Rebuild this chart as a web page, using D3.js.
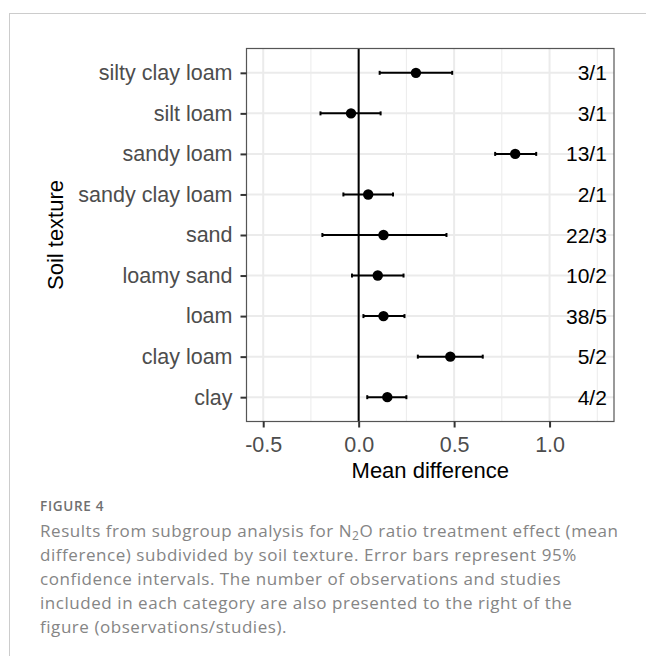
<!DOCTYPE html>
<html>
<head>
<meta charset="utf-8">
<script src="https://cdn.jsdelivr.net/npm/d3@7"></script>
<style>
  body { margin: 0; background: #fff; }
  svg { display: block; }
</style>
</head>
<body>
<svg id="chart" width="646" height="656"></svg>
<script>
// soil texture categories, bottom to top as in the figure
var categories = ["clay", "clay loam", "loam", "loamy sand", "sand",
                  "sandy clay loam", "sandy loam", "silt loam", "silty clay loam"];
var meanDiff = [0.15, 0.48, 0.13, 0.10, 0.13, 0.05, 0.82, -0.04, 0.30];
var ciLow    = [0.045, 0.31, 0.025, -0.035, -0.19, -0.08, 0.715, -0.20, 0.11];
var ciHigh   = [0.25, 0.65, 0.24, 0.235, 0.46, 0.18, 0.93, 0.115, 0.49];
var counts   = ["4/2", "5/2", "38/5", "10/2", "22/3", "2/1", "13/1", "3/1", "3/1"];

var xTicks = [-0.5, 0, 0.5, 1.0];
var xMinor = [-0.25, 0.25, 0.75, 1.25];
var xLimits = [-0.5, 1.25];
var countPos = 1.3;

var panel = {left: 246.5, top: 48.5, right: 614, bottom: 421.5};
var axisFont = "'Liberation Sans', Arial, sans-serif";

var svg = d3.select("#chart");

// outer figure frame
svg.append("rect")
    .attr("x", 9.5).attr("y", 13.5)
    .attr("width", 700).attr("height", 700)
    .attr("fill", "none")
    .attr("stroke", "#cccccc")
    .attr("stroke-width", 1);

// ggplot-like 5% expansion of the limits
var pad = (xLimits[1] - xLimits[0]) * 0.05;
var x = d3.scaleLinear()
    .domain([xLimits[0] - pad, xLimits[1] + pad])
    .range([panel.left, panel.right]);

var y = d3.scalePoint()
    .domain(categories.slice().reverse())
    .range([panel.top, panel.bottom])
    .padding(0.6);

var rows = categories.map(function(c, i) {
    return {cat: c, mean: meanDiff[i], lo: ciLow[i], hi: ciHigh[i], n: counts[i]};
});

var g = svg.append("g");

// grid
g.selectAll(".minor").data(xMinor).enter().append("line")
    .attr("x1", d => x(d)).attr("x2", d => x(d))
    .attr("y1", panel.top).attr("y2", panel.bottom)
    .attr("stroke", "#ebebeb").attr("stroke-width", 1);
g.selectAll(".major").data(xTicks).enter().append("line")
    .attr("x1", d => x(d)).attr("x2", d => x(d))
    .attr("y1", panel.top).attr("y2", panel.bottom)
    .attr("stroke", "#ebebeb").attr("stroke-width", 2);
g.selectAll(".hgrid").data(categories).enter().append("line")
    .attr("x1", panel.left).attr("x2", panel.right)
    .attr("y1", d => y(d)).attr("y2", d => y(d))
    .attr("stroke", "#ebebeb").attr("stroke-width", 2);

// zero line
g.append("line")
    .attr("x1", x(0)).attr("x2", x(0))
    .attr("y1", panel.top).attr("y2", panel.bottom)
    .attr("stroke", "#000").attr("stroke-width", 2);

// error bars
var bars = g.selectAll(".bar").data(rows).enter().append("g");
bars.append("line")
    .attr("x1", d => x(d.lo)).attr("x2", d => x(d.hi))
    .attr("y1", d => y(d.cat)).attr("y2", d => y(d.cat))
    .attr("stroke", "#000").attr("stroke-width", 2);
bars.append("line")
    .attr("x1", d => x(d.lo)).attr("x2", d => x(d.lo))
    .attr("y1", d => y(d.cat) - 2).attr("y2", d => y(d.cat) + 2)
    .attr("stroke", "#000").attr("stroke-width", 2);
bars.append("line")
    .attr("x1", d => x(d.hi)).attr("x2", d => x(d.hi))
    .attr("y1", d => y(d.cat) - 2).attr("y2", d => y(d.cat) + 2)
    .attr("stroke", "#000").attr("stroke-width", 2);
bars.append("circle")
    .attr("cx", d => x(d.mean)).attr("cy", d => y(d.cat))
    .attr("r", 5.2).attr("fill", "#000");

// observations/studies labels
g.selectAll(".count").data(rows).enter().append("text")
    .attr("x", x(countPos)).attr("y", d => y(d.cat))
    .attr("dy", "0.36em")
    .attr("text-anchor", "end")
    .style("font-family", axisFont)
    .style("font-size", "21px")
    .attr("fill", "#000")
    .text(d => d.n);

// panel border
g.append("rect")
    .attr("x", panel.left).attr("y", panel.top)
    .attr("width", panel.right - panel.left)
    .attr("height", panel.bottom - panel.top)
    .attr("fill", "none").attr("stroke", "#555").attr("stroke-width", 1.2);

// axes
var xAxis = g.append("g")
    .attr("transform", "translate(0," + panel.bottom + ")")
    .call(d3.axisBottom(x).tickValues(xTicks).tickSize(6).tickPadding(6)
        .tickFormat(d => d.toFixed(1)));
var yAxis = g.append("g")
    .attr("transform", "translate(" + panel.left + ",0)")
    .call(d3.axisLeft(y).tickSize(6).tickPadding(8));

[xAxis, yAxis].forEach(function(ax) {
    ax.select(".domain").remove();
    ax.selectAll(".tick line").attr("stroke", "#333").attr("stroke-width", 2);
    ax.selectAll(".tick text")
        .attr("fill", "#4d4d4d")
        .style("font-family", axisFont)
        .style("font-size", "21.5px");
});
xAxis.selectAll(".tick text").attr("dy", "0.85em");

// axis titles
svg.append("text")
    .attr("x", (panel.left + panel.right) / 2).attr("y", 478)
    .attr("text-anchor", "middle")
    .style("font-family", axisFont)
    .style("font-size", "22px")
    .text("Mean difference");
svg.append("text")
    .attr("transform", "translate(63," + (panel.top + panel.bottom) / 2 + ") rotate(-90)")
    .attr("text-anchor", "middle")
    .style("font-family", axisFont)
    .style("font-size", "22px")
    .text("Soil texture");

// caption
svg.append("text")
    .attr("x", 40).attr("y", 510.5)
    .style("font-family", "'Open Sans', sans-serif")
    .style("font-size", "13.5px")
    .style("font-weight", 600)
    .style("letter-spacing", "0.7px")
    .attr("fill", "#707070")
    .text("FIGURE 4");

var capLines = [
    ["Results from subgroup analysis for N", "2", "O ratio treatment effect (mean"],
    ["difference) subdivided by soil texture. Error bars represent 95%"],
    ["confidence intervals. The number of observations and studies"],
    ["included in each category are also presented to the right of the"],
    ["figure (observations/studies)."]
];
capLines.forEach(function(parts, i) {
    var t = svg.append("text")
        .attr("x", 40).attr("y", 536.7 + i * 24)
        .style("font-family", "'Open Sans', sans-serif")
        .style("font-size", "17px")
        .style("letter-spacing", "0.55px")
        .attr("fill", "#858585");
    parts.forEach(function(p, j) {
        var ts = t.append("tspan").text(p);
        if (j === 1) ts.attr("dy", 3).style("font-size", "12px");
        if (j === 2) ts.attr("dy", -3);
    });
});
</script>
</body>
</html>
